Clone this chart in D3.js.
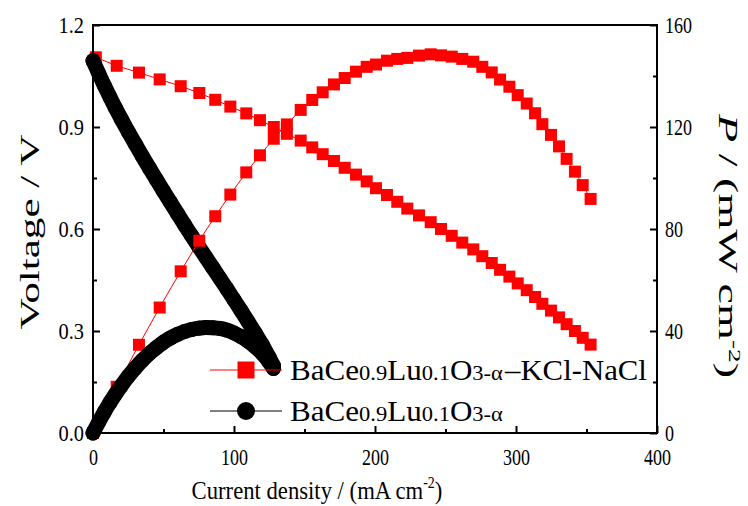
<!DOCTYPE html>
<html>
<head>
<meta charset="utf-8">
<script src="https://cdn.jsdelivr.net/npm/d3@7"></script>
<style>
  body { margin: 0; background: #fff; }
  svg { display: block; font-family: "Liberation Serif", "Times New Roman", serif; }
</style>
</head>
<body>
<svg id="chart" width="748" height="506"></svg>
<script>
// red series: BaCe0.9Lu0.1O3-α–KCl-NaCl (voltage + power share current)
const redCurrent = [2, 16.8, 32.6, 47.3, 62.2, 75.4, 86.7, 97.4, 108.7, 118.4, 128.2, 137.5, 147.3, 155.5, 162.9, 170.9, 178.5, 186.5, 194.1, 200.7, 208.5, 215.8, 222.9, 231.2, 239.5, 246.8, 254.4, 261.9, 269.7, 276.1, 282.8, 288.7, 295.3, 301.2, 307.6, 313.5, 318.7, 324.8, 330.5, 335.9, 341.8, 347.3, 352.9];
const redVoltage = [1.105, 1.08, 1.06, 1.04, 1.02, 1.00, 0.98, 0.96, 0.94, 0.92, 0.90, 0.88, 0.86, 0.84, 0.82, 0.80, 0.78, 0.76, 0.74, 0.72, 0.70, 0.68, 0.66, 0.64, 0.62, 0.60, 0.58, 0.56, 0.54, 0.52, 0.50, 0.48, 0.46, 0.44, 0.42, 0.40, 0.38, 0.36, 0.34, 0.32, 0.30, 0.28, 0.26];
const redPowerCurrent = [0, 16.8, 32.6, 47.3, 62.2, 75.4, 86.7, 97.4, 108.7, 118.4, 128.2, 137.5, 147.3, 155.5, 162.9, 170.9, 178.5, 186.5, 194.1, 200.7, 208.5, 215.8, 222.9, 231.2, 239.5, 246.8, 254.4, 261.9, 269.7, 276.1, 282.8, 288.7, 295.3, 301.2, 307.6, 313.5, 318.7, 324.8, 330.5, 335.9, 341.8, 347.3, 352.9];
const redPower = [0, 18.1, 34.6, 49.2, 63.4, 75.4, 85.0, 93.5, 102.2, 108.9, 115.4, 121.0, 126.7, 130.6, 133.6, 136.7, 139.2, 141.7, 143.6, 144.5, 146.0, 146.7, 147.1, 148.0, 148.5, 148.1, 147.6, 146.7, 145.6, 143.6, 141.4, 138.6, 135.8, 132.5, 129.2, 125.4, 121.1, 116.9, 112.4, 107.5, 102.5, 97.2, 91.8];

// black series: BaCe0.9Lu0.1O3-α
const blackCurrent = [0, 4, 8, 12, 16, 20, 25, 30, 35, 40, 45, 50, 55, 60, 65, 70, 75, 80, 85, 90, 95, 100, 105, 110, 115, 120, 125, 128];
const blackVoltage = [1.095, 1.058, 1.022, 0.988, 0.955, 0.924, 0.886, 0.850, 0.814, 0.779, 0.745, 0.711, 0.678, 0.645, 0.612, 0.580, 0.548, 0.517, 0.486, 0.455, 0.424, 0.392, 0.360, 0.327, 0.294, 0.260, 0.222, 0.198];
const blackPower = [0, 4.2, 8.2, 11.9, 15.3, 18.5, 22.2, 25.5, 28.5, 31.2, 33.5, 35.6, 37.3, 38.7, 39.8, 40.6, 41.1, 41.4, 41.3, 41.0, 40.3, 39.2, 37.8, 36.0, 33.8, 31.2, 27.8, 25.3];

const xTicks = [0, 100, 200, 300, 400];
const xMinor = [50, 150, 250, 350];
const vTicks = [0, 0.3, 0.6, 0.9, 1.2];
const vMinor = [0.15, 0.45, 0.75, 1.05];
const pTicks = [0, 40, 80, 120, 160];
const pMinor = [20, 60, 100, 140];

const svg = d3.select("#chart");
const mLeft = 93, mRight = 657, mTop = 25, mBottom = 433;

const x = d3.scaleLinear().domain([0, 400]).range([mLeft, mRight]);
const yV = d3.scaleLinear().domain([0, 1.2]).range([mBottom, mTop]);
const yP = d3.scaleLinear().domain([0, 160]).range([mBottom, mTop]);

const zipped = (xs, ys) => xs.map((d, i) => [d, ys[i]]);

const lineV = d3.line().x((d) => x(d[0])).y((d) => yV(d[1]));
const lineP = d3.line().x((d) => x(d[0])).y((d) => yP(d[1])).curve(d3.curveMonotoneX);

function drawRed(data, gen, ys) {
  const sq = 12;
  svg.append("path").datum(data).attr("d", gen).attr("fill", "none")
    .attr("stroke", "#ff0000").attr("stroke-width", 1);
  svg.append("g").selectAll("rect").data(data).join("rect")
    .attr("x", (d) => x(d[0]) - sq / 2).attr("y", (d) => ys(d[1]) - sq / 2)
    .attr("width", sq).attr("height", sq).attr("fill", "#ff0000");
}

// black: dots so dense they merge into a thick band
function drawBlack(data, gen, ys) {
  svg.append("path").datum(data).attr("d", gen).attr("fill", "none")
    .attr("stroke", "#000").attr("stroke-width", 15).attr("stroke-linejoin", "round").attr("stroke-linecap", "round");
  svg.append("g").selectAll("circle").data(data).join("circle")
    .attr("cx", (d) => x(d[0])).attr("cy", (d) => ys(d[1])).attr("r", 7.5).attr("fill", "#000");
}

// voltage layer first, then power layer
drawRed(zipped(redCurrent, redVoltage), lineV, yV);
drawBlack(zipped(blackCurrent, blackVoltage), lineV, yV);
drawRed(zipped(redPowerCurrent, redPower), lineP, yP);
drawBlack(zipped(blackCurrent, blackPower), lineP, yP);

// frame
svg.append("rect").attr("x", mLeft).attr("y", mTop).attr("width", mRight - mLeft).attr("height", mBottom - mTop)
  .attr("fill", "none").attr("stroke", "#000").attr("stroke-width", 2);

function styleAxis(g) {
  g.select(".domain").remove();
  g.selectAll("line").attr("stroke", "#000").attr("stroke-width", 2);
  g.selectAll("text").attr("font-family", "Liberation Serif").attr("font-size", 24).attr("fill", "#000");
}

// bottom
svg.append("g").attr("transform", `translate(0,${mBottom})`)
  .call(d3.axisBottom(x).tickValues(xMinor).tickSize(-4).tickFormat(""))
  .call(styleAxis);
svg.append("g").attr("transform", `translate(0,${mBottom})`)
  .call(d3.axisBottom(x).tickValues(xTicks).tickSize(-7).tickFormat(d3.format("d")))
  .call(styleAxis)
  .call((g) => g.selectAll("text").attr("y", null).attr("dy", null)
    .attr("transform", "translate(0,32) scale(0.75,1)"));

// left
svg.append("g").attr("transform", `translate(${mLeft},0)`)
  .call(d3.axisLeft(yV).tickValues(vMinor).tickSize(-4).tickFormat(""))
  .call(styleAxis);
svg.append("g").attr("transform", `translate(${mLeft},0)`)
  .call(d3.axisLeft(yV).tickValues(vTicks).tickSize(-7).tickFormat(d3.format(".1f")))
  .call(styleAxis)
  .call((g) => g.selectAll("text").attr("x", null).attr("dy", "0.33em")
    .attr("text-anchor", "end").attr("transform", "translate(-9,0) scale(0.85,1)"));

// right
svg.append("g").attr("transform", `translate(${mRight},0)`)
  .call(d3.axisRight(yP).tickValues(pMinor).tickSize(-4).tickFormat(""))
  .call(styleAxis);
svg.append("g").attr("transform", `translate(${mRight},0)`)
  .call(d3.axisRight(yP).tickValues(pTicks).tickSize(-7).tickFormat(d3.format("d")))
  .call(styleAxis)
  .call((g) => g.selectAll("text").attr("x", null).attr("dy", "0.33em")
    .attr("text-anchor", "start").attr("transform", "translate(8,0) scale(0.75,1)"));

// stretch a text along its run so it covers the same length as in the figure
function fit(t, place, len) {
  t.attr("transform", place);
  const w = t.node().getBBox().width;
  t.attr("transform", `${place} scale(${len / w},1)`);
}

// axis titles
const bt = svg.append("text").attr("text-anchor", "middle").attr("font-size", 26);
bt.append("tspan").text("Current density / (mA cm");
bt.append("tspan").attr("font-size", 16).attr("dy", -11).text("-2");
bt.append("tspan").attr("dy", 11).text(")");
fit(bt, "translate(317,499)", 251);

const lt = svg.append("text").attr("text-anchor", "middle").attr("font-size", 28).text("Voltage / V");
fit(lt, "translate(39,232) rotate(-90)", 195);

const rt = svg.append("text").attr("text-anchor", "middle").attr("font-size", 27);
rt.append("tspan").attr("font-style", "italic").text("P");
rt.append("tspan").text(" / (mW cm");
rt.append("tspan").attr("font-size", 16).attr("dy", -10).text("-2");
rt.append("tspan").attr("dy", 10).text(")");
fit(rt, "translate(719,246) rotate(90)", 266);

// legend
const legend = [
  { y: 370, color: "#ff0000", shape: "square", suffix: "\u2013KCl-NaCl" },
  { y: 411, color: "#000", shape: "circle", suffix: "" },
];
legend.forEach((l) => {
  svg.append("line").attr("x1", 210).attr("x2", 282).attr("y1", l.y).attr("y2", l.y)
    .attr("stroke", l.color).attr("stroke-width", 1);
  if (l.shape === "square") {
    svg.append("rect").attr("x", 246 - 8.5).attr("y", l.y - 8.5).attr("width", 17).attr("height", 17).attr("fill", l.color);
  } else {
    svg.append("circle").attr("cx", 246).attr("cy", l.y).attr("r", 9).attr("fill", l.color);
  }
  const t = svg.append("text").attr("font-size", 29);
  const parts = [["BaCe", 29], ["0.9", 21], ["Lu", 29], ["0.1", 21], ["O", 29], ["3-\u03b1", 21]];
  parts.forEach(([s, fs]) => t.append("tspan").attr("font-size", fs).text(s));
  fit(t, `translate(290,${l.y + 10})`, 213);
  if (l.suffix) {
    const s = svg.append("text").attr("font-size", 29).text(l.suffix);
    fit(s, `translate(505,${l.y + 10})`, 143);
  }
});
</script>
</body>
</html>
